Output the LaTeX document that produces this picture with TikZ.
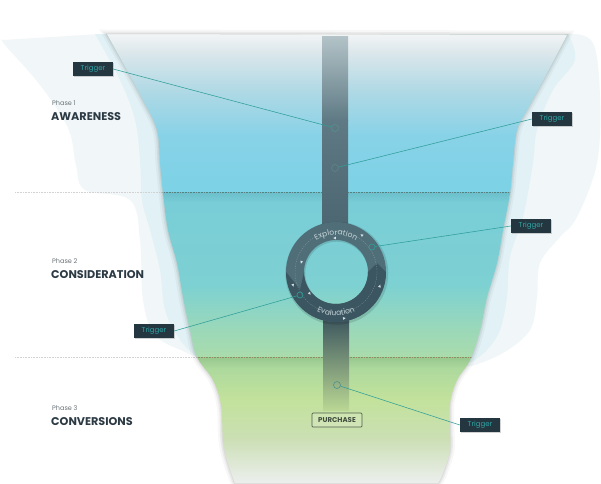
\documentclass[tikz,border=0pt]{standalone}
\usepackage{fontspec}
\setmainfont{Poppins}
\usetikzlibrary{decorations.text,decorations.markings,shadows,arrows.meta}
\definecolor{sA}{HTML}{F3F5F6}
\definecolor{sB}{HTML}{DCE7EB}
\definecolor{sC}{HTML}{B0D9E5}
\definecolor{sD}{HTML}{88D2E7}
\definecolor{sE}{HTML}{7CD2E6}
\definecolor{sF}{HTML}{6BBFCB}
\definecolor{sG}{HTML}{79CDD7}
\definecolor{sH}{HTML}{7DD1D2}
\definecolor{sI}{HTML}{9AD8BA}
\definecolor{sJ}{HTML}{AADBAB}
\definecolor{sK}{HTML}{97C78E}
\definecolor{sL}{HTML}{ADD99D}
\definecolor{sM}{HTML}{C3E29C}
\definecolor{sN}{HTML}{CBDFB4}
\definecolor{sO}{HTML}{EDEFEF}
\definecolor{paleA}{HTML}{F1F7F9}
\definecolor{paleB}{HTML}{E1F1F5}
\definecolor{barTop}{HTML}{B3C3C8}
\definecolor{barMid}{HTML}{5F7A84}
\definecolor{barBot}{HTML}{4B6571}
\definecolor{ringLight}{HTML}{506E78}
\definecolor{ringDark}{HTML}{3B5661}
\definecolor{ringText}{HTML}{C3D2D6}
\definecolor{trigBox}{HTML}{243640}
\definecolor{trigText}{HTML}{2FA8A8}
\definecolor{trigLine}{HTML}{2E9E99}
\definecolor{headCol}{HTML}{2C3A44}
\definecolor{phaseCol}{HTML}{6A7378}
\definecolor{purCol}{HTML}{4F604C}
\def\funnel{plot[smooth,tension=0.6] coordinates {(107,34) (127,70) (143,100) (157,130) (160,163) (163,193) (168,230) (177,263) (183,297) (190,330) (197,357) (213,380) (221,405) (223,440) (227,460) (235,483)} -- plot[smooth,tension=0.6] coordinates {(438,483) (443,473) (450,450) (450,430) (450,403) (457,380) (470,360) (480,330) (487,297) (497,263) (503,230) (510,193) (513,163) (517,130) (527,110) (547,73) (567,35)} -- cycle}
\tikzset{
  trig/.style={fill=trigBox, text=trigText, font=\fontsize{7}{8}\selectfont,
    minimum width=40pt, minimum height=14pt, inner sep=0pt,
    drop shadow={shadow xshift=1.2pt, shadow yshift=-1.2pt, opacity=.35}},
  tline/.style={draw=trigLine, line width=0.55pt},
  dot/.style={circle, draw=#1, line width=0.6pt, minimum size=7pt, inner sep=0pt},
  head/.style={anchor=base west, inner sep=0pt, text=headCol, font=\fontsize{11.2}{13}\selectfont\bfseries},
  phase/.style={anchor=base west, inner sep=0pt, text=phaseCol, font=\fontsize{6.5}{7}\selectfont},
  sep/.style={draw=gray!60, line width=0.5pt, dash pattern=on 0.8pt off 0.8pt}
}
\begin{document}
\begin{tikzpicture}[x=1pt,y=-1pt]
\useasboundingbox (0,0) rectangle (601,483);
\fill[white] (0,0) rectangle (601,483);
% pale background shapes
\fill[paleA] plot[smooth,tension=0.6] coordinates {(3,40) (5,45) (40,85) (68,128) (76,165) (85,190) (130,200) (140,240) (143,300) (155,335) (185,352) (200,358)} -- (300,358) -- (300,34) -- (100,34) -- cycle;
\fill[paleB] plot[smooth,tension=0.6] coordinates {(95,34) (120,80) (135,120) (140,160) (142,200) (150,230) (160,270) (165,310) (180,340) (198,358)} -- (300,358) -- (300,34) -- cycle;
\fill[paleA] plot[smooth,tension=0.6] coordinates {(570,34) (593,43) (600,97) (597,163) (577,217) (560,237) (540,263) (537,297) (530,330) (503,353) (472,366)} -- (380,366) -- (380,34) -- cycle;
\fill[paleB] plot[smooth,tension=0.6] coordinates {(568,34) (575,60) (553,90) (537,130) (533,163) (523,217) (510,257) (507,297) (500,330) (487,350) (472,362)} -- (380,362) -- (380,34) -- cycle;
% separators
\draw[sep, gray!35] (15,192) -- (505,192);
\draw[sep, gray!35] (15,357) -- (472,357);
% funnel shadow
\draw[black, opacity=0.03, line width=9pt] \funnel;
\draw[black, opacity=0.05, line width=5pt] \funnel;
\draw[black, opacity=0.06, line width=2pt] \funnel;
% funnel gradient
\begin{scope}
\clip \funnel;
\shade[top color=sA, bottom color=sB] (100,33) rectangle (600,52.5);
\shade[top color=sB, bottom color=sC] (100,52) rectangle (600,90.5);
\shade[top color=sC, bottom color=sD] (100,90) rectangle (600,135.5);
\shade[top color=sD, bottom color=sE] (100,135) rectangle (600,192.5);
\shade[top color=sF, bottom color=sG] (100,192) rectangle (600,202.5);
\shade[top color=sG, bottom color=sH] (100,202) rectangle (600,285.5);
\shade[top color=sH, bottom color=sI] (100,285) rectangle (600,328.5);
\shade[top color=sI, bottom color=sJ] (100,328) rectangle (600,357.5);
\shade[top color=sK, bottom color=sL] (100,357) rectangle (600,368.5);
\shade[top color=sL, bottom color=sM] (100,368) rectangle (600,400.5);
\shade[top color=sM, bottom color=sN] (100,400) rectangle (600,438.5);
\shade[top color=sN, bottom color=sO] (100,438) rectangle (600,484);
\draw[sep, gray!70!teal] (100,192) -- (600,192);
\draw[sep, gray!70!olive] (100,357) -- (600,357);
\end{scope}
\draw[black!10, line width=0.5pt] (107,34) -- (567,35);
% vertical bar
\shade[top color=barTop, bottom color=barMid] (322,36) rectangle (348,120.5);
\shade[top color=barMid, bottom color=barBot] (322,120) rectangle (348,230);
\shade[top color=ringDark!95!black, bottom color=sM!95!black] (323,315) rectangle (349,410);
% ring
\begin{scope}[shift={(336,272)}, y=1pt]
\fill[black, opacity=0.12, even odd rule] (0.8,-1.2) circle (51.5) (0.8,-1.2) circle (31.5);
\fill[ringLight, even odd rule] (0,0) circle (50) (0,0) circle (32);
\fill[ringDark] (180:50) arc (180:360:50) -- (12:42) -- (360:32) arc (360:180:32) -- (206:40) -- cycle;
\draw[white, opacity=0.3, line width=0.35pt, dash pattern=on 1.2pt off 1.2pt] (0,0) circle (41);
\foreach \a/\r in {55/45,92/34,164/36,197/45,219/34,280/47,342/46}{
  \fill[white, opacity=0.8, shift={(\a:\r)}, rotate=\a+90] (1.6,0) -- (-1.1,1.4) -- (-1.1,-1.4) -- cycle;
}
\path[decorate, decoration={text along path, text align=center,
  text={|\fontsize{7.6}{8}\selectfont\color{ringText}|Exploration}}] (150:37) arc (150:30:37);
\path[decorate, decoration={text along path, text align=center,
  text={|\fontsize{7.6}{8}\selectfont\color{ringText}|Evaluation}}] (210:43.5) arc (210:330:43.5);
\end{scope}
% bar circles and ring markers
\node[dot=trigLine!50!gray] (c1) at (335,128) {};
\node[dot=trigLine!40!gray, opacity=0.7] (c2) at (335,168) {};
\node[dot=trigLine!60!gray] (c3) at (337,385) {};
\node[dot=trigLine, minimum size=6pt] (m1) at (372,247) {};
\node[dot=trigLine, minimum size=6pt] (m2) at (300,295) {};
% triggers
\node[trig] (t1) at (93,69) {Trigger};
\node[trig] (t2) at (552,119) {Trigger};
\node[trig] (t3) at (531,226) {Trigger};
\node[trig] (t4) at (154,331) {Trigger};
\node[trig] (t5) at (480,425) {Trigger};
\draw[tline] (t1.east) -- (c1);
\draw[tline] (t2.west) -- (c2);
\draw[tline] (t3.west) -- (m1);
\draw[tline] (t4.east) -- (m2);
\draw[tline] (t5.west) -- (c3);
% purchase
\node[draw=purCol, line width=0.7pt, fill=white, fill opacity=0.15, text opacity=1, text=purCol!80!black,
  font=\fontsize{7}{8}\selectfont\bfseries, minimum width=50pt, minimum height=14pt, inner sep=0pt, rounded corners=1pt] (pur) at (337,420) {PURCHASE};
% phase labels
\node[phase] (p1) at (52,105.5) {Phase 1};
\node[head] (h1) at (51,120) {AWARENESS};
\node[phase] (p2) at (52,263.5) {Phase 2};
\node[head] (h2) at (51,278) {CONSIDERATION};
\node[phase] (p3) at (52,410) {Phase 3};
\node[head] (h3) at (51,425) {CONVERSIONS};
\end{tikzpicture}
\end{document}
